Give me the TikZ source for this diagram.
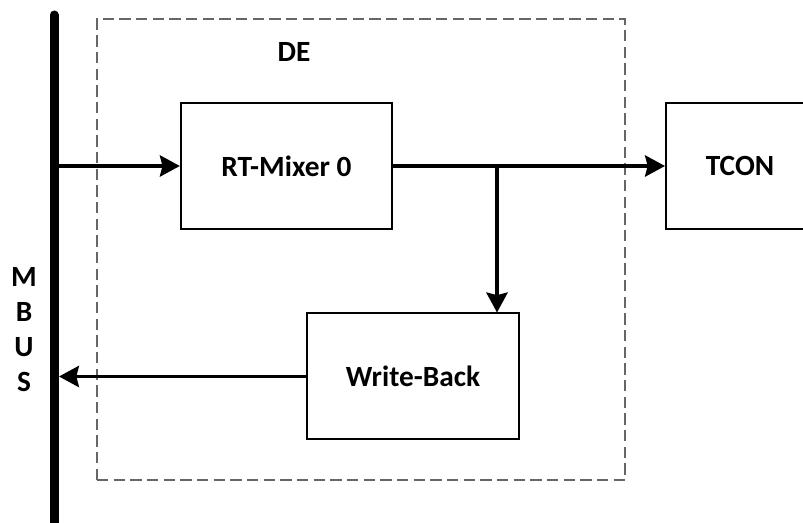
\documentclass[tikz,border=0pt]{standalone}
\usepackage{fontspec}
\setmainfont{Carlito}
\usetikzlibrary{arrows.meta}

\begin{document}
\begin{tikzpicture}[x=0.75pt, y=-0.75pt,
    >={Stealth[length=15pt, width=16pt, inset=2pt]},
    font=\fontsize{22}{26.25}\selectfont\bfseries,
    block/.style={
        draw, line width=1.5pt, minimum width=158.5pt, minimum height=94.5pt,
        inner sep=0pt
    },
    region/.style={
        draw=black!60, line width=0.9pt, dash pattern=on 8.5pt off 4pt,
        minimum width=396pt, minimum height=345.75pt, inner sep=0pt
    },
    bus/.style={line width=6.75pt, line cap=round},
    signal/.style={->, line width=2.3pt},
    tlab/.style={inner sep=0pt},
]
    \useasboundingbox (0,0) rectangle (803,523);

    % --- region DE ---
    \node[region] (de) at (361,249.5) {};
    \node[tlab] (delabel) at (294,52) {DE};

    % --- bus ---
    \coordinate (bustop) at (54,15);
    \coordinate (busbot) at (54,535);
    \draw[bus] (bustop) -- (busbot);
    \node[tlab, align=center] (buslabel) at (24,329.5) {M\\B\\U\\S};

    % --- blocks ---
    \node[block] (mixer) at (286.5,166) {RT-Mixer 0};
    \node[block, minimum width=111pt] (tcon) at (740,166) {TCON};
    \node[block] (wb) at (413,376.5) {Write-Back};

    % --- signals ---
    \coordinate (busin)  at (54,166);
    \coordinate (tap)    at (497,166);
    \coordinate (busout) at (59,376.5);

    \draw[signal] (busin) -- (mixer.west);
    \draw[signal] (mixer.east) -- (tcon.west);
    \draw[signal] (tap) -- (tap |- wb.north);
    \draw[signal] (wb.west) -- (busout);

\end{tikzpicture}
\end{document}
